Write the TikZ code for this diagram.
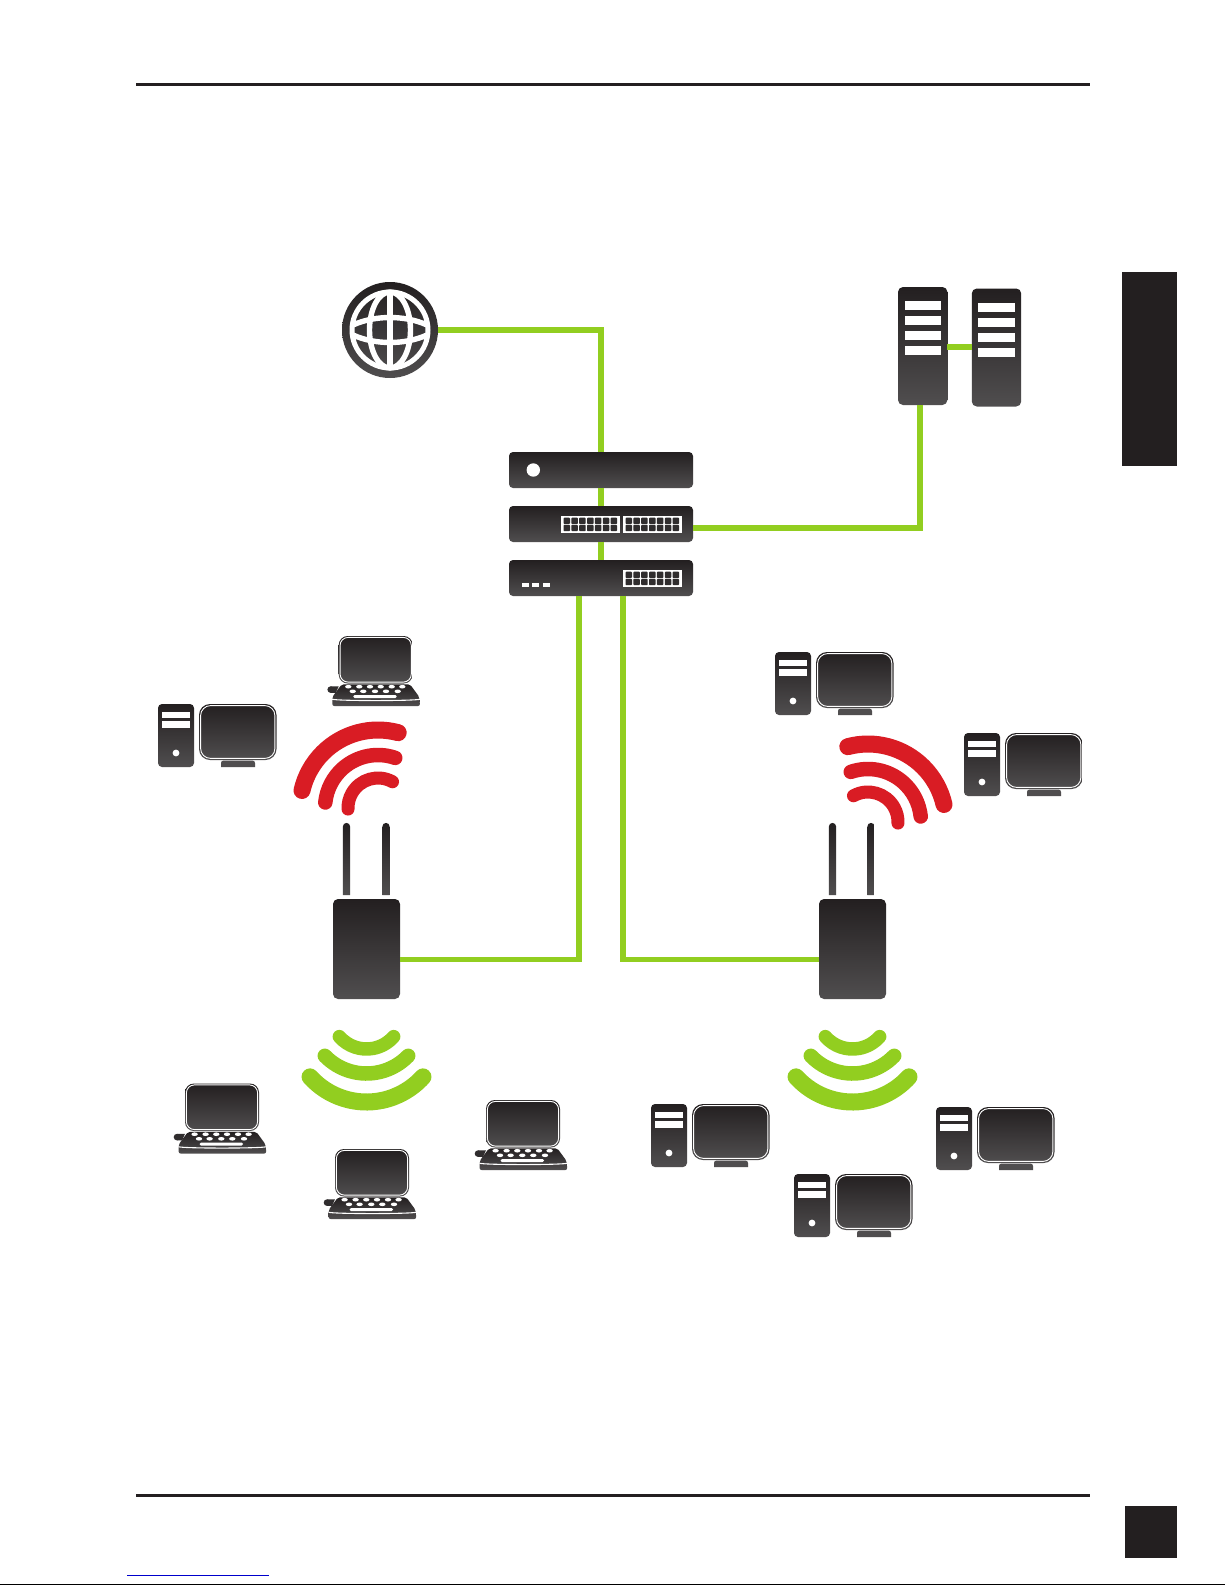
\documentclass[tikz,border=0pt]{standalone}
\definecolor{iconTop}{HTML}{231F20}
\definecolor{iconBot}{HTML}{504E4F}
\definecolor{linkGreen}{HTML}{92CE20}
\definecolor{waveRed}{HTML}{D91C24}
\definecolor{inkBlack}{HTML}{231F20}
\tikzset{
  x=1pt,y=-1pt,
  icon/.style={top color=iconTop,bottom color=iconBot,draw=none},
  devbox/.style={icon,rounded corners=4pt,inner sep=0pt,outer sep=0pt,minimum width=184pt,minimum height=36pt},
  srvbox/.style={icon,rounded corners=5pt,inner sep=0pt,outer sep=0pt,minimum width=49.4pt,minimum height=118pt},
  apbox/.style={icon,rounded corners=5pt,inner sep=0pt,outer sep=0pt,minimum width=67pt,minimum height=100pt},
  globebox/.style={icon,circle,inner sep=0pt,outer sep=0pt,minimum size=96pt},
  link/.style={draw=linkGreen,line width=5.5pt},
  slot/.style={fill=white,draw=none},
  wave/.style={line cap=round},
  pics/pc/.style={code={
    \path[icon,rounded corners=4pt] (0,0) rectangle (36,63);
    \fill[white] (4,8) rectangle (32,14.2);
    \fill[white] (4,16.7) rectangle (32,23.5);
    \fill[white] (18,49) circle (3.4pt);
    \path[icon,rounded corners=11pt] (41,0) rectangle (118.5,56);
    \draw[white,line width=0.9pt,rounded corners=10pt] (42.6,1.6) rectangle (116.9,54.4);
    \fill[iconBot] (63,63) -- (63,59) .. controls (63,57.5) and (64,56.5) .. (66,56.5) -- (94,56.5) .. controls (96,56.5) and (97,57.5) .. (97,59) -- (97,63) -- cycle;
  }},
  pics/laptop/.style={code={
    \path[icon,rounded corners=9pt] (0,0) rectangle (74,47.5);
    \draw[white,line width=0.9pt,rounded corners=8pt] (1.4,1.4) rectangle (72.6,46.1);
    \fill[iconTop!70!iconBot] (-8,53.6) circle (3.3pt);
    \fill[iconTop!70!iconBot] (-8,50.3) -- (0,50.3) -- (-3,56.9) -- (-8,56.9) -- cycle;
    \path[icon,rounded corners=2pt] (3,48.3) -- (71.3,48.3) -- (80.6,61) -- (81.3,70) -- (-6.4,70) -- (-6.4,61) -- cycle;
    \draw[white,line width=1.1pt] (-6.6,63.2) .. controls (-2,65) and (76,65) .. (81.5,63.2);
    \foreach \kx in {9.6,20.6,31.3,42,53,63.6} \fill[white] (\kx,50.7) ellipse[x radius=3.2pt,y radius=1.8pt];
    \foreach \kx in {14,24.6,36.3,47.3,59} \fill[white] (\kx,55.3) ellipse[x radius=3.2pt,y radius=1.8pt];
    \fill[white,rounded corners=1.4pt] (14.6,59) rectangle (58,62);
  }},
  pics/antenna/.style={code={
    \path[icon] (-3.6,826.5) arc[start angle=180,end angle=0,radius=3.6pt] -- (3.6,895) -- (-3.6,895) -- cycle;
  }},
}
\newcommand{\wavearc}[7]{\draw[wave,draw=#7,line width=#6pt] ({#1+#3*cos(#4)},{#2-#3*sin(#4)}) arc[start angle=#4,end angle=#5,radius=#3pt];}
\newcommand{\ports}[4]{% x0 y0 columns (panel)
  \fill[white] (#1,#2) rectangle ++(#3,17);
  \foreach \i in {0,...,6}{
    \foreach \j in {0,1}{
      \fill[iconTop!70!iconBot,rounded corners=0.8pt] ({#1+2.5+\i*7.85},{#2+1.7+\j*7.1}) rectangle ++(6.5,6.3);
    }
  }
}
\begin{document}
\begin{tikzpicture}
\useasboundingbox (0,0) rectangle (1225,1585);
\fill[white] (0,0) rectangle (1225,1585);
% page furniture
\fill[inkBlack] (136,82.5) rectangle (1090,85.5);
\fill[inkBlack] (136,1493.5) rectangle (1090,1496.5);
\fill[inkBlack] (1121.5,272) rectangle (1177,466);
\fill[inkBlack] (1125,1506) rectangle (1177,1558);
\fill[blue!80!black] (127,1574.5) rectangle (269,1575.7);
\fill[black] (0,1583.5) rectangle (1225,1585);
% devices
\node[globebox] (globe) at (390,330) {};
\begin{scope}[white,line width=5.4pt]
  \draw[line width=5pt] (390,330) circle (38pt);
  \draw (390,330) ellipse[x radius=20.5pt,y radius=38pt];
  \draw (390,292) -- (390,368);
  \draw (353,325) .. controls (375,315) and (405,315) .. (427,325);
  \draw (353,335) .. controls (375,345) and (405,345) .. (427,335);
\end{scope}
\node[devbox] (r1) at (601,470) {};
\node[devbox] (r2) at (601,524) {};
\node[devbox] (r3) at (601,578) {};
\fill[white] (533.3,470) circle (6.7pt);
\ports{561}{516}{59}{}
\ports{623}{516}{59}{}
\ports{623}{570}{59}{}
\foreach \dx in {522,532,543}{\fill[white] (\dx,583.3) rectangle ++(6.6,3.4);}
\node[srvbox] (srv1) at (922.7,346) {};
\node[srvbox] (srv2) at (996.5,347.5) {};
\foreach \sy in {301,316,331,346}{\fill[slot] (905,\sy) rectangle ++(36,9);}
\foreach \sy in {303,318,333,348}{\fill[slot] (978,\sy) rectangle ++(37,9);}
\node[apbox] (apL) at (366.5,949) {};
\node[apbox] (apR) at (852.5,949) {};
\pic at (346.5,0) {antenna};
\pic at (386,0) {antenna};
\pic at (832.5,0) {antenna};
\pic at (871,0) {antenna};
% connector ends
\coordinate (r2port) at (693,528);
\coordinate (srvport) at (920,405);
\coordinate (r3portL) at (579,596);
\coordinate (r3portR) at (623,596);
\coordinate (apLport) at (400,959.7);
\coordinate (apRport) at (819,959.7);
\coordinate (srv1port) at (947.4,347);
\coordinate (srv2port) at (971.8,347);
% connectors
\draw[link] (globe.east) -| (r1.north);
\draw[link] (r1.south) -- (r2.north);
\draw[link] (r2.south) -- (r3.north);
\draw[link] (r2port) -| (srvport);
\draw[link] (srv1port) -- (srv2port);
\draw[link] (r3portL) |- (apLport);
\draw[link] (r3portR) |- (apRport);
% red waves
\wavearc{378}{808}{78}{75}{167}{17}{waveRed}
\wavearc{378}{808}{53}{71}{174}{14.5}{waveRed}
\wavearc{378}{808}{30}{61}{182}{13}{waveRed}
\wavearc{868}{822}{78}{105}{13}{17}{waveRed}
\wavearc{868}{822}{53}{109}{6}{14.5}{waveRed}
\wavearc{868}{822}{30}{119}{-2}{13}{waveRed}
% green waves
\wavearc{366.5}{1026}{76}{222}{318}{17}{linkGreen}
\wavearc{366.5}{1015.5}{58}{224}{316}{14.5}{linkGreen}
\wavearc{366.5}{1013}{36}{221}{319}{13.5}{linkGreen}
\wavearc{852.5}{1026}{76}{222}{318}{17}{linkGreen}
\wavearc{852.5}{1015.5}{58}{224}{316}{14.5}{linkGreen}
\wavearc{852.5}{1013}{36}{221}{319}{13.5}{linkGreen}
% computers
\pic at (158,704) {pc};
\pic at (775,652) {pc};
\pic at (964,733) {pc};
\pic at (651,1104) {pc};
\pic at (936,1107) {pc};
\pic at (794,1174) {pc};
% laptops
\pic at (338.7,636) {laptop};
\pic at (185,1083.5) {laptop};
\pic at (335,1149) {laptop};
\pic at (486,1100) {laptop};
\end{tikzpicture}
\end{document}
